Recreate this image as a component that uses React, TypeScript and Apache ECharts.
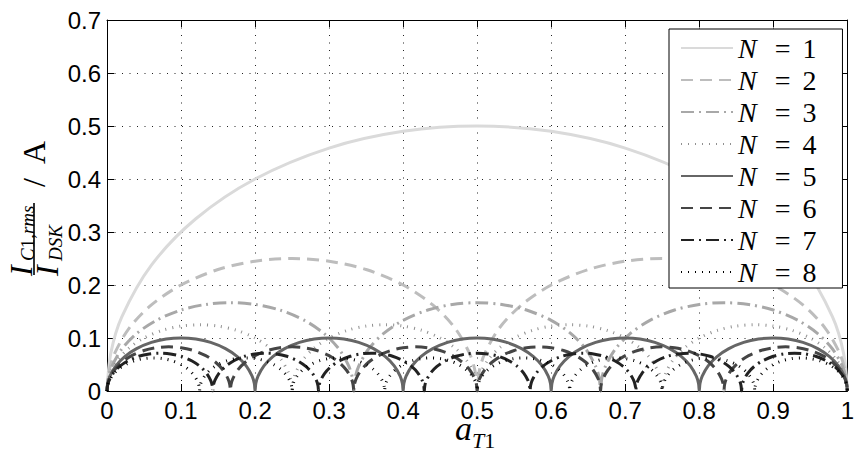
import React, { useEffect, useRef } from 'react';
import * as echarts from 'echarts';

// Sample positions inside one arch (fraction of the arch width)
const archFractions = [0, 0.005, 0.02, 0.06, 0.12, 0.2, 0.3, 0.4, 0.5, 0.6, 0.7, 0.8, 0.88, 0.94, 0.98, 0.995];

const seriesNames = ['N = 1', 'N = 2', 'N = 3', 'N = 4', 'N = 5', 'N = 6', 'N = 7', 'N = 8'];

// values (A), one arch after another
const n1 = [0, 0.0705, 0.14, 0.2375, 0.325, 0.4, 0.4583, 0.4899, 0.5, 0.4899, 0.4583, 0.4, 0.325, 0.2375, 0.14, 0.0705, 0];
const n2 = [
  0, 0.0353, 0.07, 0.1188, 0.1625, 0.2, 0.2292, 0.2449, 0.25, 0.2449, 0.2292, 0.2, 0.1625, 0.1188, 0.07, 0.0353,
  0, 0.0353, 0.07, 0.1188, 0.1625, 0.2, 0.2292, 0.2449, 0.25, 0.2449, 0.2292, 0.2, 0.1625, 0.1188, 0.07, 0.0353,
  0];
const n3 = [
  0, 0.0235, 0.0467, 0.0792, 0.1083, 0.1333, 0.1528, 0.1633, 0.1667, 0.1633, 0.1528, 0.1333, 0.1083, 0.0792, 0.0467, 0.0235,
  0, 0.0235, 0.0467, 0.0792, 0.1083, 0.1333, 0.1528, 0.1633, 0.1667, 0.1633, 0.1528, 0.1333, 0.1083, 0.0792, 0.0467, 0.0235,
  0, 0.0235, 0.0467, 0.0792, 0.1083, 0.1333, 0.1528, 0.1633, 0.1667, 0.1633, 0.1528, 0.1333, 0.1083, 0.0792, 0.0467, 0.0235,
  0];
const n4 = [
  0, 0.0176, 0.035, 0.0594, 0.0813, 0.1, 0.1146, 0.1225, 0.125, 0.1225, 0.1146, 0.1, 0.0813, 0.0594, 0.035, 0.0176,
  0, 0.0176, 0.035, 0.0594, 0.0813, 0.1, 0.1146, 0.1225, 0.125, 0.1225, 0.1146, 0.1, 0.0813, 0.0594, 0.035, 0.0176,
  0, 0.0176, 0.035, 0.0594, 0.0813, 0.1, 0.1146, 0.1225, 0.125, 0.1225, 0.1146, 0.1, 0.0813, 0.0594, 0.035, 0.0176,
  0, 0.0176, 0.035, 0.0594, 0.0813, 0.1, 0.1146, 0.1225, 0.125, 0.1225, 0.1146, 0.1, 0.0813, 0.0594, 0.035, 0.0176,
  0];
const n5 = [
  0, 0.0141, 0.028, 0.0475, 0.065, 0.08, 0.0917, 0.098, 0.1, 0.098, 0.0917, 0.08, 0.065, 0.0475, 0.028, 0.0141,
  0, 0.0141, 0.028, 0.0475, 0.065, 0.08, 0.0917, 0.098, 0.1, 0.098, 0.0917, 0.08, 0.065, 0.0475, 0.028, 0.0141,
  0, 0.0141, 0.028, 0.0475, 0.065, 0.08, 0.0917, 0.098, 0.1, 0.098, 0.0917, 0.08, 0.065, 0.0475, 0.028, 0.0141,
  0, 0.0141, 0.028, 0.0475, 0.065, 0.08, 0.0917, 0.098, 0.1, 0.098, 0.0917, 0.08, 0.065, 0.0475, 0.028, 0.0141,
  0, 0.0141, 0.028, 0.0475, 0.065, 0.08, 0.0917, 0.098, 0.1, 0.098, 0.0917, 0.08, 0.065, 0.0475, 0.028, 0.0141,
  0];
const n6 = [
  0, 0.0118, 0.0233, 0.0396, 0.0542, 0.0667, 0.0764, 0.0816, 0.0833, 0.0816, 0.0764, 0.0667, 0.0542, 0.0396, 0.0233, 0.0118,
  0, 0.0118, 0.0233, 0.0396, 0.0542, 0.0667, 0.0764, 0.0816, 0.0833, 0.0816, 0.0764, 0.0667, 0.0542, 0.0396, 0.0233, 0.0118,
  0, 0.0118, 0.0233, 0.0396, 0.0542, 0.0667, 0.0764, 0.0816, 0.0833, 0.0816, 0.0764, 0.0667, 0.0542, 0.0396, 0.0233, 0.0118,
  0, 0.0118, 0.0233, 0.0396, 0.0542, 0.0667, 0.0764, 0.0816, 0.0833, 0.0816, 0.0764, 0.0667, 0.0542, 0.0396, 0.0233, 0.0118,
  0, 0.0118, 0.0233, 0.0396, 0.0542, 0.0667, 0.0764, 0.0816, 0.0833, 0.0816, 0.0764, 0.0667, 0.0542, 0.0396, 0.0233, 0.0118,
  0, 0.0118, 0.0233, 0.0396, 0.0542, 0.0667, 0.0764, 0.0816, 0.0833, 0.0816, 0.0764, 0.0667, 0.0542, 0.0396, 0.0233, 0.0118,
  0];
const n7 = [
  0, 0.0101, 0.02, 0.0339, 0.0464, 0.0571, 0.0655, 0.07, 0.0714, 0.07, 0.0655, 0.0571, 0.0464, 0.0339, 0.02, 0.0101,
  0, 0.0101, 0.02, 0.0339, 0.0464, 0.0571, 0.0655, 0.07, 0.0714, 0.07, 0.0655, 0.0571, 0.0464, 0.0339, 0.02, 0.0101,
  0, 0.0101, 0.02, 0.0339, 0.0464, 0.0571, 0.0655, 0.07, 0.0714, 0.07, 0.0655, 0.0571, 0.0464, 0.0339, 0.02, 0.0101,
  0, 0.0101, 0.02, 0.0339, 0.0464, 0.0571, 0.0655, 0.07, 0.0714, 0.07, 0.0655, 0.0571, 0.0464, 0.0339, 0.02, 0.0101,
  0, 0.0101, 0.02, 0.0339, 0.0464, 0.0571, 0.0655, 0.07, 0.0714, 0.07, 0.0655, 0.0571, 0.0464, 0.0339, 0.02, 0.0101,
  0, 0.0101, 0.02, 0.0339, 0.0464, 0.0571, 0.0655, 0.07, 0.0714, 0.07, 0.0655, 0.0571, 0.0464, 0.0339, 0.02, 0.0101,
  0, 0.0101, 0.02, 0.0339, 0.0464, 0.0571, 0.0655, 0.07, 0.0714, 0.07, 0.0655, 0.0571, 0.0464, 0.0339, 0.02, 0.0101,
  0];
const n8 = [
  0, 0.0088, 0.0175, 0.0297, 0.0406, 0.05, 0.0573, 0.0612, 0.0625, 0.0612, 0.0573, 0.05, 0.0406, 0.0297, 0.0175, 0.0088,
  0, 0.0088, 0.0175, 0.0297, 0.0406, 0.05, 0.0573, 0.0612, 0.0625, 0.0612, 0.0573, 0.05, 0.0406, 0.0297, 0.0175, 0.0088,
  0, 0.0088, 0.0175, 0.0297, 0.0406, 0.05, 0.0573, 0.0612, 0.0625, 0.0612, 0.0573, 0.05, 0.0406, 0.0297, 0.0175, 0.0088,
  0, 0.0088, 0.0175, 0.0297, 0.0406, 0.05, 0.0573, 0.0612, 0.0625, 0.0612, 0.0573, 0.05, 0.0406, 0.0297, 0.0175, 0.0088,
  0, 0.0088, 0.0175, 0.0297, 0.0406, 0.05, 0.0573, 0.0612, 0.0625, 0.0612, 0.0573, 0.05, 0.0406, 0.0297, 0.0175, 0.0088,
  0, 0.0088, 0.0175, 0.0297, 0.0406, 0.05, 0.0573, 0.0612, 0.0625, 0.0612, 0.0573, 0.05, 0.0406, 0.0297, 0.0175, 0.0088,
  0, 0.0088, 0.0175, 0.0297, 0.0406, 0.05, 0.0573, 0.0612, 0.0625, 0.0612, 0.0573, 0.05, 0.0406, 0.0297, 0.0175, 0.0088,
  0, 0.0088, 0.0175, 0.0297, 0.0406, 0.05, 0.0573, 0.0612, 0.0625, 0.0612, 0.0573, 0.05, 0.0406, 0.0297, 0.0175, 0.0088,
  0];

const seriesValues = [n1, n2, n3, n4, n5, n6, n7, n8];
const archCounts = [1, 2, 3, 4, 5, 6, 7, 8];

const lineColors = ['#dadada', '#bdbdbd', '#a8a8a8', '#909090', '#666666', '#454545', '#222222', '#000000'];
const lineTypes: any[] = ['solid', [12, 7], [13, 5, 2, 5], [1, 6], 'solid', [12, 7], [13, 5, 2, 5], [1, 6]];

const SERIF = 'Liberation Serif';
const SANS = 'Liberation Sans';

function buildPoints(n: number, ys: number[]) {
  const per = archFractions.length;
  return ys.map((y, i) => [(Math.floor(i / per) + archFractions[i % per]) / n, y]);
}

export default function App() {
  const ref = useRef<HTMLDivElement>(null);
  useEffect(() => {
    if (!ref.current) return;
    const chart = echarts.init(ref.current, null, { renderer: 'svg' });
    const axisCommon = {
      axisLine: { show: true, onZero: false, lineStyle: { color: '#000', width: 1 } },
      axisTick: { show: true, inside: true, length: 7, lineStyle: { color: '#000', width: 1 } },
    };
    const gridLine = { show: true, lineStyle: { color: '#222', width: 1, type: [1, 6.5] as any } };
    const option: any = {
      animation: false,
      backgroundColor: '#fff',
      grid: { left: 107, top: 20, right: 6, bottom: 61, containLabel: false },
      xAxis: [
        {
          type: 'value', min: 0, max: 1, interval: 0.1, position: 'bottom',
          ...axisCommon,
          splitLine: gridLine,
          axisLabel: { color: '#000', fontSize: 24, fontFamily: SANS, margin: 7 },
        },
        {
          type: 'value', min: 0, max: 1, interval: 0.1, position: 'top',
          ...axisCommon,
          splitLine: { show: false },
          axisLabel: { show: false },
        },
      ],
      yAxis: [
        {
          type: 'value', min: 0, max: 0.7, interval: 0.1, position: 'left',
          ...axisCommon,
          splitLine: gridLine,
          axisLabel: { color: '#000', fontSize: 24, fontFamily: SANS, margin: 6 },
        },
        {
          type: 'value', min: 0, max: 0.7, interval: 0.1, position: 'right',
          ...axisCommon,
          splitLine: { show: false },
          axisLabel: { show: false },
        },
      ],
      legend: {
        orient: 'vertical',
        left: 669,
        top: 29,
        padding: [3, 26, 0, 11],
        itemGap: 0,
        itemWidth: 52,
        itemHeight: 14,
        backgroundColor: '#fff',
        borderColor: '#000',
        borderWidth: 1,
        borderRadius: 0,
        itemStyle: { opacity: 0 },
        data: seriesNames,
        formatter: (name: string) => `{n|N}{e|=}{d|${name.split('= ')[1]}}`,
        textStyle: {
          color: '#000', fontFamily: SERIF, fontSize: 28, lineHeight: 32,
          rich: {
            n: { fontStyle: 'italic', fontFamily: SERIF, fontSize: 28, lineHeight: 32, color: '#000' },
            e: { fontFamily: SERIF, fontSize: 28, lineHeight: 32, padding: [0, 0, 0, 18], color: '#000' },
            d: { fontFamily: SERIF, fontSize: 28, lineHeight: 32, padding: [0, 0, 0, 12], color: '#000' },
          },
        },
      },
      series: seriesValues.map((ys, k) => ({
        name: seriesNames[k],
        type: 'line',
        xAxisIndex: 0,
        yAxisIndex: 0,
        data: buildPoints(archCounts[k], ys),
        symbol: 'none',
        smooth: 0.3,
        lineStyle: { color: lineColors[k], width: 3, type: lineTypes[k], cap: 'butt' },
        itemStyle: { color: lineColors[k], opacity: 0 },
        emphasis: { disabled: true },
        z: 2 + k,
      })),
      graphic: [
        // x-axis label a_{T1}
        {
          type: 'text', x: 455, y: 428,
          style: { text: 'a', font: `italic 34px ${SERIF}`, lineHeight: 16, fill: '#000', align: 'left', verticalAlign: 'middle' },
        },
        {
          type: 'text', x: 472, y: 440,
          style: {
            text: '{i|T}{u|1}',
            rich: {
              i: { fontStyle: 'italic', fontFamily: SERIF, fontSize: 22, lineHeight: 16, fill: '#000' },
              u: { fontFamily: SERIF, fontSize: 22, lineHeight: 16, fill: '#000' },
            },
            align: 'left', verticalAlign: 'middle',
          },
        },
        // y-axis label: I_{C1,rms} / I_{DSK}  / A  (rotated)
        {
          type: 'group', x: 34, y: 239, rotation: Math.PI / 2,
          children: [
            { type: 'rect', shape: { x: -36, y: -0.8, width: 72, height: 1.6 }, style: { fill: '#000' } },
            {
              type: 'text', x: -37, y: -13,
              style: { text: 'I', font: `italic 32px ${SERIF}`, fill: '#000', align: 'left', verticalAlign: 'middle' },
            },
            {
              type: 'text', x: -22, y: -7,
              style: {
                text: '{i|C}{u|1,}{i|rms}',
                rich: {
                  i: { fontStyle: 'italic', fontFamily: SERIF, fontSize: 19, fill: '#000' },
                  u: { fontFamily: SERIF, fontSize: 19, fill: '#000' },
                },
                align: 'left', verticalAlign: 'middle',
              },
            },
            {
              type: 'text', x: -37, y: 13,
              style: { text: 'I', font: `italic 32px ${SERIF}`, fill: '#000', align: 'left', verticalAlign: 'middle' },
            },
            {
              type: 'text', x: -22, y: 21,
              style: { text: 'DSK', font: `italic 19px ${SERIF}`, fill: '#000', align: 'left', verticalAlign: 'middle' },
            },
            {
              type: 'text', x: 52, y: 0,
              style: { text: '/  A', font: `32px ${SERIF}`, fill: '#000', align: 'left', verticalAlign: 'middle' },
            },
          ],
        },
      ],
    };
    chart.setOption(option);
    return () => chart.dispose();
  }, []);
  return (
    <div
      ref={ref}
      style={{ position: 'fixed', left: 0, top: 0, width: 857, height: 452, background: '#fff' }}
    />
  );
}
